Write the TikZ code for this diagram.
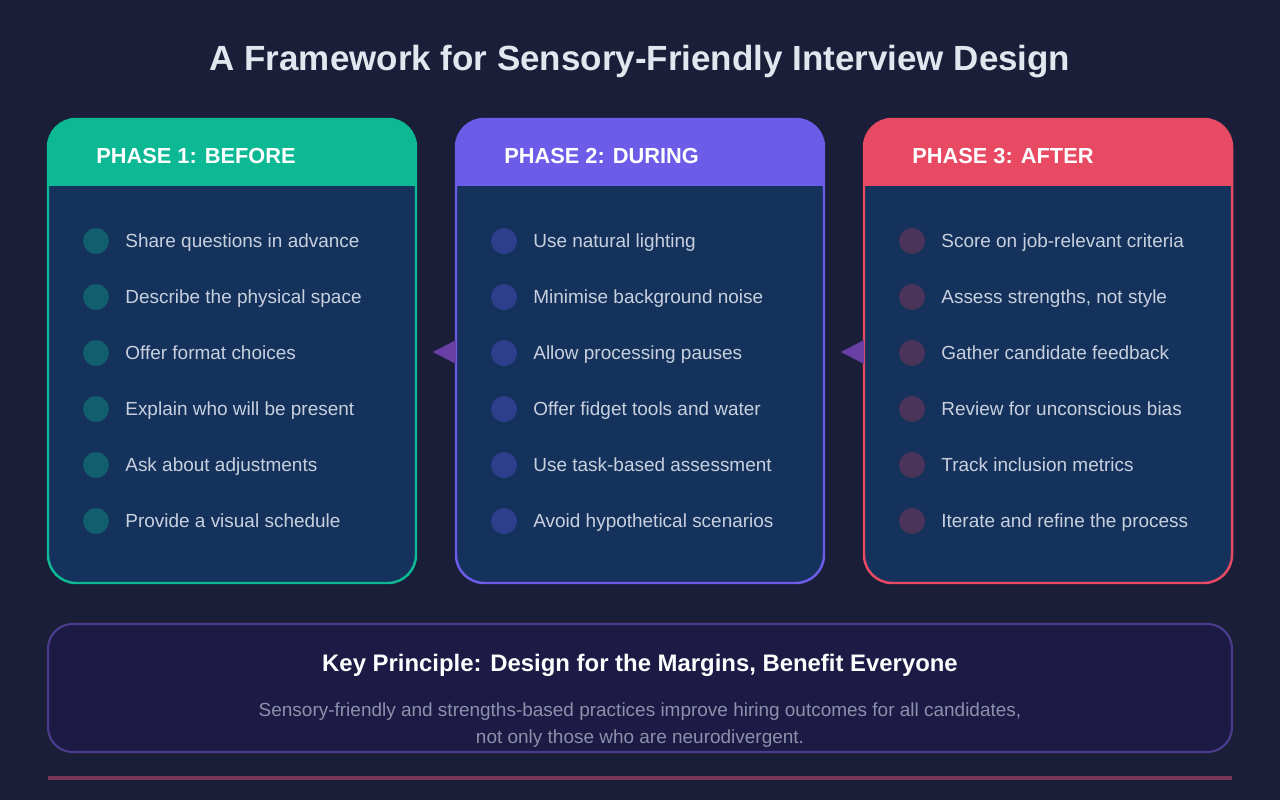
\documentclass[tikz,border=0pt]{standalone}
\usepackage{fontspec}
\setmainfont{Liberation Sans}
\definecolor{bgdark}{HTML}{1A1E38}
\definecolor{cardbody}{HTML}{14325C}
\definecolor{tealc}{HTML}{0DB894}
\definecolor{purplec}{HTML}{6C5CE7}
\definecolor{redc}{HTML}{E84A64}
\definecolor{tealdot}{HTML}{135E6C}
\definecolor{purpledot}{HTML}{2D3E8C}
\definecolor{reddot}{HTML}{4B3459}
\definecolor{itemtext}{HTML}{C8D0DE}
\definecolor{arrowc}{HTML}{6A3FA5}
\definecolor{keyfill}{HTML}{1D1B45}
\definecolor{keyline}{HTML}{4D3B8E}
\definecolor{noteg}{HTML}{8C90AA}
\definecolor{footline}{HTML}{7A3558}
\definecolor{titlec}{HTML}{E2E6EE}
\tikzset{
	item/.style={anchor=west, text=itemtext, font=\fontsize{10.8}{13}\selectfont, inner sep=0pt, text height=1.5ex, text depth=.3ex},
	phasehead/.style={anchor=west, text=white, font=\fontsize{12.4}{14}\selectfont\bfseries, inner sep=0pt, text height=1.5ex, text depth=.3ex},
}
\begin{document}
\begin{tikzpicture}[x=0.02cm, y=-0.02cm]
	\fill[bgdark] (0,0) rectangle (1280,800);
	\node[text=titlec, font=\fontsize{19.9}{23}\selectfont\bfseries] (title) at (640,62) {A Framework for Sensory-Friendly Interview Design};
	
	% cards
	\foreach \x/\col/\dot/\head/\n in {48/tealc/tealdot/{PHASE 1: BEFORE}/one, 456/purplec/purpledot/{PHASE 2: DURING}/two, 864/redc/reddot/{PHASE 3: AFTER}/three}{
		\fill[cardbody, rounded corners=16] (\x,119) rectangle ++(368,464);
		\fill[\col, rounded corners=16] (\x,119) -- ++(368,0) -- ++(0,67) -- ++(-368,0) -- cycle;
		\fill[\col] (\x,160) rectangle ++(368,26);
		\draw[\col, line width=1.4, rounded corners=16] (\x,119) rectangle ++(368,464);
		\node[phasehead] (head-\n) at (\x+48,158) {\head};
		\foreach \k in {0,...,5}
			\fill[\dot] (\x+48,241+56*\k) circle (13);
	}
	
	% items
	\foreach \t [count=\i from 0] in {Share questions in advance, Describe the physical space, Offer format choices, Explain who will be present, Ask about adjustments, Provide a visual schedule}
		\node[item] (b\i) at (125,242+56*\i) {\t};
	\foreach \t [count=\i from 0] in {Use natural lighting, Minimise background noise, Allow processing pauses, Offer fidget tools and water, Use task-based assessment, Avoid hypothetical scenarios}
		\node[item] (d\i) at (533,242+56*\i) {\t};
	\foreach \t [count=\i from 0] in {Score on job-relevant criteria, {Assess strengths, not style}, Gather candidate feedback, Review for unconscious bias, Track inclusion metrics, Iterate and refine the process}
		\node[item] (a\i) at (941,242+56*\i) {\t};
	
	% arrows between cards
	\fill[arrowc] (433,352) -- (456,340) -- (456,364) -- cycle;
	\fill[arrowc] (841,352) -- (864,340) -- (864,364) -- cycle;
	
	% key principle
	\draw[keyline, fill=keyfill, line width=1.2, rounded corners=14] (48,624) rectangle (1232,752);
	\node[text=white, font=\fontsize{13.6}{16}\selectfont\bfseries] (key) at (640,665) {Key Principle: Design for the Margins, Benefit Everyone};
	\node[text=noteg, font=\fontsize{10.8}{15.3}\selectfont, align=center] (note) at (640,725) {Sensory-friendly and strengths-based practices improve hiring outcomes for all candidates,\\not only those who are neurodivergent.};
	\fill[footline] (48,776) rectangle (1232,780);
\end{tikzpicture}
\end{document}
